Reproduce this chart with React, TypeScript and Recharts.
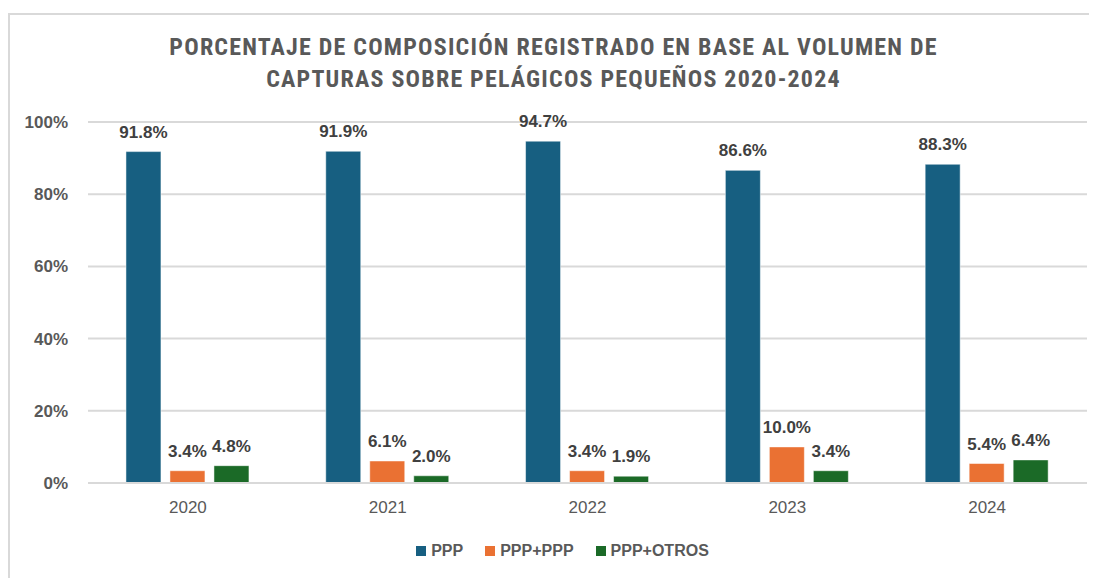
import React from "react";
import { BarChart, Bar, XAxis, YAxis, CartesianGrid, LabelList } from "recharts";

const years = ["2020", "2021", "2022", "2023", "2024"];
const ppp = [91.8, 91.9, 94.7, 86.6, 88.3];
const pppPpp = [3.4, 6.1, 3.4, 10.0, 5.4];
const pppOtros = [4.8, 2.0, 1.9, 3.4, 6.4];
const yTicks = [0, 20, 40, 60, 80, 100];

const seriesNames = ["PPP", "PPP+PPP", "PPP+OTROS"];
const colors = ["#175f81", "#ea7133", "#1b6a27"];

const data = years.map((y, i) => ({ year: y, ppp: ppp[i], pppPpp: pppPpp[i], pppOtros: pppOtros[i] }));

const FONT = "'Liberation Sans', Arial, sans-serif";

const fmt = (v: any) => `${Number(v).toFixed(1)}%`;

export default function App() {
  const W = 1089;
  const H = 570;
  const keys = ["ppp", "pppPpp", "pppOtros"];
  return (
    <div style={{ width: W, height: H, overflow: "hidden", position: "relative", background: "#fff" }}>
      <div
        style={{
          position: "absolute",
          left: 0,
          top: 5,
          width: W + 20,
          height: H + 20,
          border: "2px solid #d9d9d9",
          boxSizing: "border-box",
        }}
      />
      <div
        style={{
          position: "absolute",
          left: 0,
          top: 23,
          width: W + 2,
          textAlign: "center",
          fontFamily: "'Liberation Sans Narrow', 'Roboto Condensed', 'Liberation Sans', sans-serif",
          fontWeight: 700,
          fontSize: 24,
          letterSpacing: 1.2,
          lineHeight: "32px",
          color: "#595959",
        }}
      >
        PORCENTAJE DE COMPOSICIÓN REGISTRADO EN BASE AL VOLUMEN DE
        <br />
        CAPTURAS SOBRE PELÁGICOS PEQUEÑOS 2020-2024
      </div>
      <div style={{ position: "absolute", left: 0, top: 0 }}>
        <BarChart
          width={W}
          height={H}
          data={data}
          margin={{ top: 114, right: 10, left: 20, bottom: 65 }}
          barCategoryGap="19%"
          barGap={9}
        >
          <CartesianGrid vertical={false} stroke="#d9d9d9" strokeWidth={2} />
          <XAxis
            dataKey="year"
            tickLine={false}
            axisLine={{ stroke: "#d9d9d9", strokeWidth: 2 }}
            height={30}
            tickSize={0}
            tickMargin={18}
            tick={{ fill: "#595959", fontSize: 17, fontFamily: FONT }}
          />
          <YAxis
            domain={[0, 100]}
            ticks={yTicks}
            tickFormatter={(v: any) => `${v}%`}
            tickLine={false}
            axisLine={false}
            width={60}
            tickSize={0}
            tickMargin={20}
            tick={{ fill: "#595959", fontSize: 17, fontWeight: 700, fontFamily: FONT }}
          />
          {keys.map((k, i) => (
            <Bar key={k} dataKey={k} name={seriesNames[i]} fill={colors[i]} stroke="#ffffff" strokeOpacity={0.5} strokeWidth={1} isAnimationActive={false}>
              <LabelList
                dataKey={k}
                position="top"
                offset={14}
                formatter={fmt}
                style={{ fill: "#404040", fontSize: 17, fontWeight: 700, fontFamily: FONT }}
              />
            </Bar>
          ))}
        </BarChart>
      </div>
      <div
        style={{
          position: "absolute",
          left: 0,
          top: 534,
          width: W,
          boxSizing: "border-box",
          paddingLeft: 20,
          display: "flex",
          justifyContent: "center",
          gap: 22,
          fontFamily: FONT,
          fontWeight: 700,
          fontSize: 16,
          color: "#595959",
        }}
      >
        {seriesNames.map((n, i) => (
          <div key={n} style={{ display: "flex", alignItems: "center" }}>
            <span style={{ display: "inline-block", width: 10, height: 10, background: colors[i], marginRight: 5 }} />
            <span>{n}</span>
          </div>
        ))}
      </div>
    </div>
  );
}
